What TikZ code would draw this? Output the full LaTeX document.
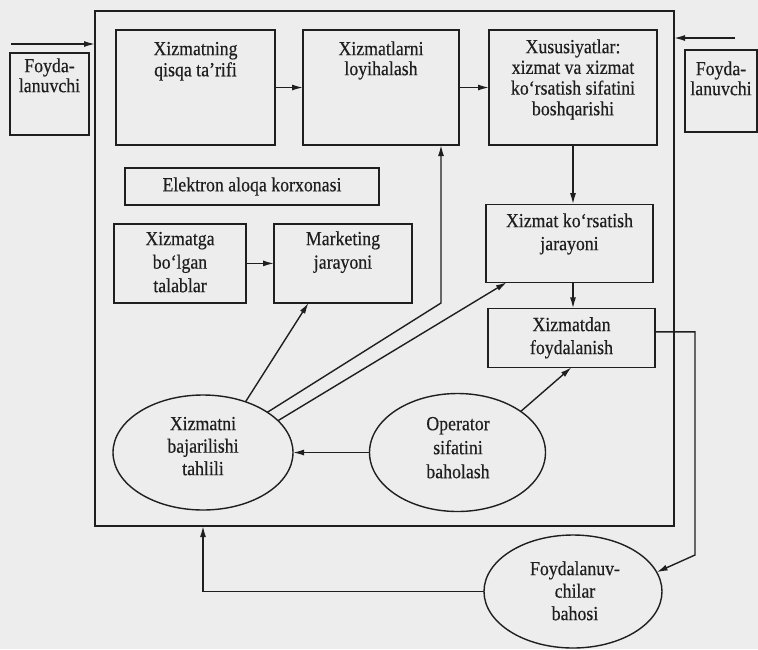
\documentclass[tikz,border=0pt]{standalone}
\usepackage{fontspec}
\setmainfont{Liberation Serif}[FakeStretch=0.89,FakeBold=0.4]
\usetikzlibrary{arrows.meta,shapes.geometric,calc}

% label font: fixed size, line spacing given per label
\newcommand\lblfont[1]{\fontsize{20}{#1}\selectfont}

\begin{document}
\begin{tikzpicture}[x=1pt,y=-1pt,
  ink/.style={draw=black!88, line width=1.4pt},
  box/.style={ink, rectangle, inner sep=0pt, outer sep=0pt, align=center,
              font=\lblfont{23}, text=black!88},
  oval/.style={ink, ellipse, inner sep=0pt, outer sep=0pt},
  lbl/.style={align=center, inner sep=0pt, anchor=north, text=black!88,
              font=\lblfont{#1}},
  lbl/.default=21,
  arr/.style={ink, -{Latex[length=11pt,width=6pt]}},
  wire/.style={ink}
]
\useasboundingbox (0,0) rectangle (758,649);
\fill[black!7] (0,0) rectangle (758,649);

% outer frame of the system
\node[box, minimum width=579pt, minimum height=515pt] (frame) at (384.5,268.5) {};

% users outside the frame
\node[box, minimum width=79pt, minimum height=82pt] (lu) at (49.5,94) {};
\node[lbl=20] (t-lu) at (49.5,58) {\strut Foyda-\\lanuvchi};
\node[box, minimum width=72pt, minimum height=82pt] (ru) at (721,91) {};
\node[lbl=20] (t-ru) at (721,61) {\strut Foyda-\\lanuvchi};

% top row
\node[box, minimum width=159pt, minimum height=115pt] (b1) at (195.5,87.5) {};
\node[lbl=20] (t-b1) at (195.5,41) {\strut Xizmatning\\qisqa ta’rifi};
\node[box, minimum width=156pt, minimum height=115pt] (b2) at (381,87.5) {};
\node[lbl=20] (t-b2) at (381,41) {\strut Xizmatlarni\\loyihalash};
\node[box, minimum width=168pt, minimum height=115pt] (b3) at (573,87.5) {};
\node[lbl=20.7] (t-b3) at (573,38.5) {\strut Xususiyatlar:\\xizmat va xizmat\\ko‘rsatish sifatini\\boshqarishi};

% middle part
\node[box, minimum width=254pt, minimum height=37pt] (ea) at (252,186.5) {Elektron aloqa korxonasi};
\node[box, minimum width=132pt, minimum height=79pt] (tl) at (180,263.4) {};
\node[lbl=23.5] (t-tl) at (180,228.5) {\strut Xizmatga\\bo‘lgan\\talablar};
\node[box, minimum width=138pt, minimum height=79pt] (mk) at (343,263.4) {};
\node[lbl=23.5] (t-mk) at (343,228.5) {\strut Marketing\\jarayoni};
\node[box, minimum width=167pt, minimum height=78pt] (xk) at (569.5,243.2) {};
\node[lbl=23] (t-xk) at (569.5,210.9) {\strut Xizmat ko‘rsatish\\jarayoni};
\node[box, minimum width=167pt, minimum height=59pt] (xf) at (571.5,337.8) {Xizmatdan\\foydalanish};

% evaluation ovals
\node[oval, minimum width=180pt, minimum height=115pt] (e1) at (203,452.5) {};
\node[lbl=22.5] (t-e1) at (203,414.2) {\strut Xizmatni\\bajarilishi\\tahlili};
\node[oval, minimum width=176pt, minimum height=118pt] (e2) at (457.5,452.5) {};
\node[lbl=24] (t-e2) at (458,413.2) {\strut Operator\\sifatini\\baholash};
\node[oval, minimum width=178pt, minimum height=113pt] (e3) at (573,591.5) {};
\node[lbl=22.5] (t-e3) at (575,559.2) {\strut Foydalanuv-\\chilar\\bahosi};

% helper points for the routed connectors
\coordinate (lin) at (11,44);
\coordinate (rin) at (735,38);
\coordinate (ja) at (441,303);
\coordinate (xfr) at ($(xf.north east)!.4!(xf.south east)$);
\coordinate (rb) at (695,555);
\coordinate (lb) at (203,591.5);

% connectors
\draw[arr] (lin) -- (lin -| frame.west);
\draw[arr] (rin) -- (rin -| frame.east);
\draw[arr] (b1.east) -- (b2.west);
\draw[arr] (b2.east) -- (b3.west);
\draw[arr] (b3.south) -- (b3.south |- xk.north);
\draw[arr] (xk.south -| b3.south) -- (b3.south |- xf.north);
\draw[arr] (tl.east) -- (mk.west);
\draw[arr] (e2.west) -- (e1.east);
\draw[arr] (e2.33) -- (xf.south);
\draw[arr] (e1.50) -- ($(mk.south west)!.25!(mk.south east)$);
\draw[arr] (e1.32) -- (ja) -- (ja |- b2.south);
\draw[arr] (e1.23) -- ($(xk.south west)!.125!(xk.south east)$);
\draw[arr] (xfr) -- (xfr -| rb) -- (rb) -- (e3.13);
\draw[arr] (e3.west) -- (lb) -- (lb |- frame.south);
\end{tikzpicture}
\end{document}
